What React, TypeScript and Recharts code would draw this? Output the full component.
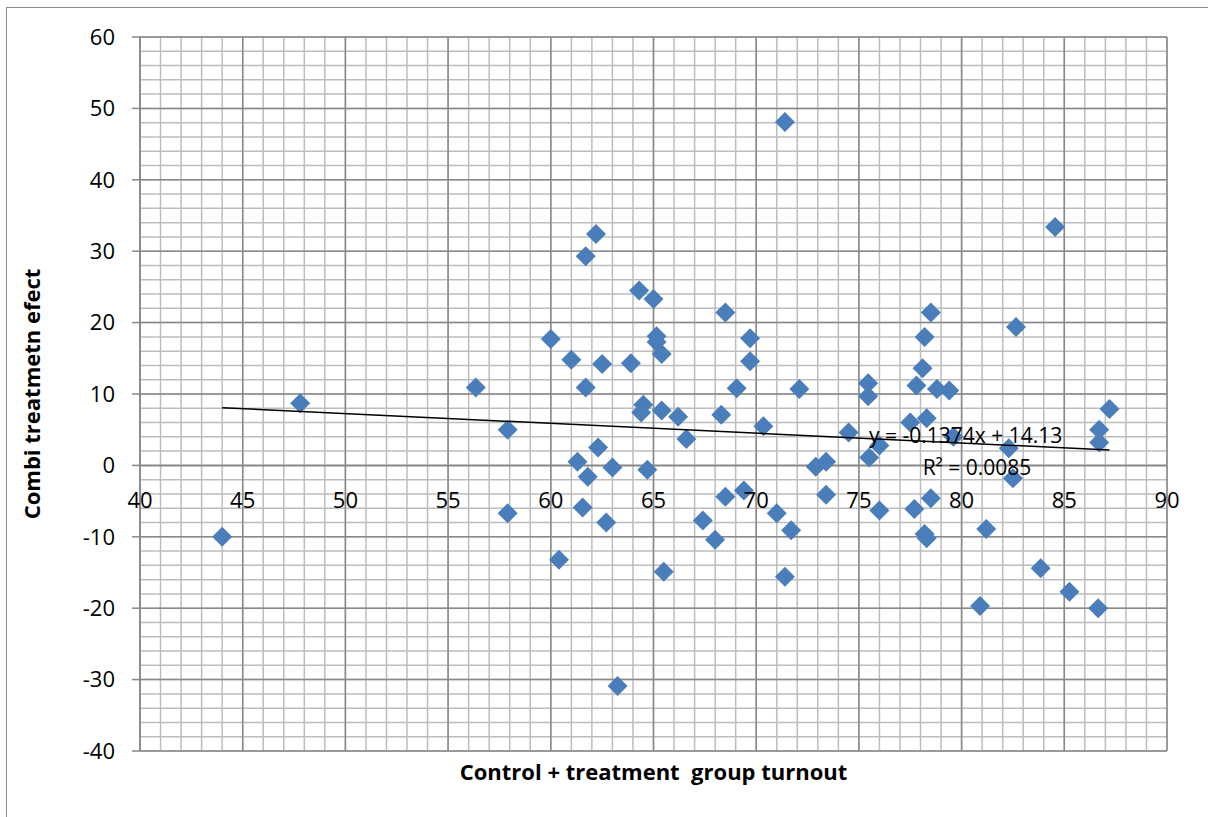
import { ScatterChart, Scatter, XAxis, YAxis, CartesianGrid, ReferenceLine } from 'recharts'

// turnout (x) vs combi treatment effect (y)
const turnout = [
  44.0, 47.8, 56.35, 57.9, 57.9, 60.0, 60.4, 61.0, 61.3, 61.7,
  61.55, 61.7, 61.8, 62.2, 62.3, 62.5, 62.7, 63.0, 63.25, 63.9,
  64.3, 64.4, 64.5, 64.7, 65.0, 65.15, 65.15, 65.4, 65.4, 65.5,
  66.2, 66.6, 67.4, 68.0, 68.3, 68.5, 68.5, 69.05, 69.4, 69.7,
  69.7, 70.35, 71.0, 71.4, 71.4, 71.7, 72.1, 72.9, 73.4, 73.4,
  74.5, 75.45, 75.45, 75.5, 76.0, 76.0, 77.5, 77.8, 77.7, 78.1,
  78.2, 78.3, 78.2, 78.3, 78.5, 78.5, 78.8, 79.4, 79.6, 80.9,
  81.2, 82.3, 82.5, 82.65, 83.85, 84.55, 85.25, 86.7, 86.7, 86.65,
  87.2,
]
const effect = [
  -10.0, 8.7, 10.9, 5.0, -6.7, 17.7, -13.2, 14.8, 0.5, 10.9,
  -5.9, 29.3, -1.6, 32.4, 2.5, 14.2, -8.0, -0.3, -30.9, 14.3,
  24.5, 7.4, 8.5, -0.6, 23.3, 18.1, 17.3, 15.6, 7.7, -14.9,
  6.8, 3.7, -7.7, -10.4, 7.1, 21.4, -4.4, 10.8, -3.5, 17.8,
  14.6, 5.5, -6.7, 48.1, -15.6, -9.1, 10.7, -0.2, 0.5, -4.1,
  4.6, 11.5, 9.7, 1.1, 2.8, -6.3, 6.0, 11.2, -6.1, 13.6,
  18.0, 6.6, -9.6, -10.2, 21.4, -4.6, 10.7, 10.5, 4.0, -19.7,
  -8.9, 2.4, -1.8, 19.4, -14.4, 33.4, -17.7, 5.0, 3.2, -20.0,
  7.9,
]

const xTicks = [40, 45, 50, 55, 60, 65, 70, 75, 80, 85, 90]
const yTicks = [-40, -30, -20, -10, 0, 10, 20, 30, 40, 50, 60]
const xMinor = Array.from({ length: 51 }, (_, i) => 40 + i)
const yMinor = Array.from({ length: 51 }, (_, i) => -40 + i * 2)

// Excel linear trendline
const TREND_SLOPE = -0.1374
const TREND_INTERCEPT = 14.13
const trendX = [44.0, 87.2]

const W = 1208
const H = 817
const TOP = 37
const RIGHT = 41
const Y_AXIS_W = 140
const X_AXIS_H = 66
const PLOT_H = H - TOP - X_AXIS_H
const X_MIN = 40, X_MAX = 90, Y_MIN = -40, Y_MAX = 60

const FONT = '"Open Sans", sans-serif'
const BLUE = '#4A7EBB'
const GRID_DARK = '#898989'

const points = turnout.map((x, i) => ({ x, y: effect[i] }))
const trend = trendX.map(x => ({ x, y: TREND_SLOPE * x + TREND_INTERCEPT }))

// y pixel of the value 0, where Excel crosses the x axis
const zeroY = TOP + (PLOT_H * (Y_MAX - 0)) / (Y_MAX - Y_MIN)

const Diamond = (props: any) => {
  const { cx, cy } = props
  const r = 10
  return <path d={`M${cx},${cy - r}L${cx + r},${cy}L${cx},${cy + r}L${cx - r},${cy}Z`} fill={BLUE} />
}

const XTick = (props: any) => {
  const { x, payload } = props
  return (
    <text x={x} y={zeroY + 43} textAnchor="middle" fontSize={22} fontFamily={FONT} fill="#000">
      {payload.value}
    </text>
  )
}

export default function App() {
  const xScale = (v: number) => Y_AXIS_W + ((v - X_MIN) / (X_MAX - X_MIN)) * (W - Y_AXIS_W - RIGHT)
  const yScale = (v: number) => TOP + ((Y_MAX - v) / (Y_MAX - Y_MIN)) * PLOT_H
  return (
    <div style={{ position: 'absolute', left: 0, top: 0, width: W, height: H, background: '#fff', overflow: 'hidden' }}>
      <div style={{ position: 'absolute', left: 6, top: 7, width: W + 20, height: H + 20, border: '1.5px solid #8c8c8c' }} />
      <div style={{ position: 'absolute', left: 0, top: 0 }}>
        <ScatterChart width={W} height={H} margin={{ top: TOP, right: RIGHT, left: 0, bottom: 0 }}>
          <CartesianGrid horizontalValues={yMinor} verticalValues={xMinor} stroke="#bdbdbd" strokeWidth={1.5} />
          <CartesianGrid horizontalValues={yTicks} verticalValues={xTicks} stroke={GRID_DARK} strokeWidth={1.5} />
          <XAxis
            type="number"
            dataKey="x"
            domain={[X_MIN, X_MAX]}
            ticks={xTicks}
            interval={0}
            height={X_AXIS_H}
            axisLine={false}
            tickLine={false}
            tick={<XTick />}
            label={{
              value: 'Control + treatment\u00a0 group turnout',
              position: 'insideTop',
              offset: 13,
              style: { fontFamily: FONT, fontSize: 22, fontWeight: 'bold', fill: '#000' },
            }}
          />
          <YAxis
            type="number"
            dataKey="y"
            domain={[Y_MIN, Y_MAX]}
            ticks={yTicks}
            interval={0}
            width={Y_AXIS_W}
            axisLine={{ stroke: GRID_DARK, strokeWidth: 1.5 }}
            tickLine={{ stroke: GRID_DARK, strokeWidth: 1.5 }}
            tickSize={8}
            tickMargin={17}
            tick={{ fontSize: 22, fontFamily: FONT, fill: '#000' }}
            label={{
              value: 'Combi treatmetn efect',
              angle: -90,
              position: 'insideLeft',
              offset: 32,
              style: { textAnchor: 'middle', fontFamily: FONT, fontSize: 22, fontWeight: 'bold', fill: '#000' },
            }}
          />
          {/* x axis crosses at y = 0 */}
          <ReferenceLine y={0} stroke={GRID_DARK} strokeWidth={1.5} />
          <Scatter data={points} shape={<Diamond />} isAnimationActive={false} />
          <Scatter
            data={trend}
            line={{ stroke: '#000', strokeWidth: 1.5 }}
            shape={() => <g />}
            isAnimationActive={false}
          />
        </ScatterChart>
      </div>
      <svg width={W} height={H} style={{ position: 'absolute', left: 0, top: 0, pointerEvents: 'none' }}>
        <text x={xScale(80.2)} y={yScale(3.1)} textAnchor="middle" fontSize={21} fontFamily={FONT}>
          y = -0.1374x + 14.13
        </text>
        <text x={xScale(80.75)} y={yScale(-1.3)} textAnchor="middle" fontSize={21} fontFamily={FONT}>
          R² = 0.0085
        </text>
      </svg>
    </div>
  )
}
